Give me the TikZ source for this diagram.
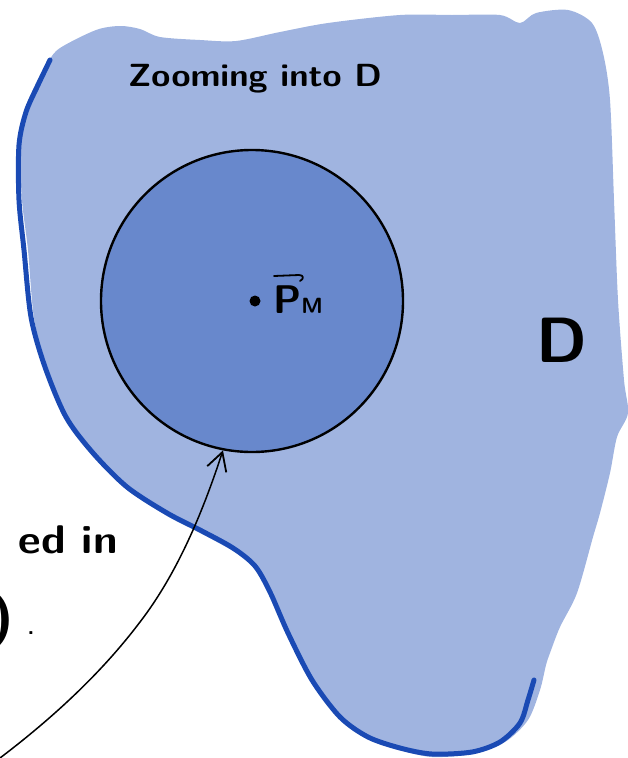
\documentclass[tikz,border=0pt]{standalone}
\usetikzlibrary{arrows.meta}
\definecolor{regionfill}{RGB}{160,180,224}
\definecolor{ballfill}{RGB}{104,136,204}
\definecolor{edgeblue}{RGB}{26,74,180}
\begin{document}
\begin{tikzpicture}[x=1pt,y=-1pt,
  handtext/.style={inner sep=0pt, text=black, font=\sffamily},
  ballstyle/.style={circle, draw=black, line width=2.4pt, fill=ballfill, minimum size=302pt, inner sep=0pt},
  dotstyle/.style={circle, fill=black, minimum size=11pt, inner sep=0pt},
  vecbar/.style={line width=1.8pt, line cap=round, line join=round},
  pointer/.style={line width=1.5pt, line cap=round, -{Straight Barb[length=18pt,width=20pt,line width=1.8pt]}}]
\useasboundingbox (0,0) rectangle (628,758);
\clip (0,0) rectangle (628,758);
% region D
\fill[regionfill] plot[smooth cycle, tension=0.5] coordinates {
 (48,62) (60,48) (96,30) (120,26) (140,29) (160,37) (200,40) (236,41) (280,32) (328,23)
 (400,15) (452,15) (500,15) (520,23) (536,13) (568,10) (592,23) (603,53) (610,100)
 (614,200) (618,300) (624,380) (628,413) (617,437) (610,473) (600,513) (593,537)
 (577,593) (560,627) (550,653) (546,665) (540,690) (528,720) (505,742) (472,754)
 (432,757) (400,750) (368,739) (340,719) (312,682) (288,635) (272,593)
 (257,568) (233,551) (200,533) (167,516) (127,490) (93,456) (67,420) (47,370)
 (34,318) (28,250) (22,200) (20,140) (25,110) (35,85)};
% blue boundary stroke
\draw[edgeblue, line width=5pt, line cap=round] plot[smooth, tension=0.5] coordinates {
 (50,60) (38,85) (26,112) (19,145) (19,200) (24,250) (31,317) (45,367) (66,417)
 (93,453) (127,487) (167,513) (200,530) (233,548) (255,566) (270,592)
 (288,633) (312,680) (340,717) (368,737) (400,748) (432,754) (472,752) (500,742)
 (520,723) (528,700) (534,680)};
% ball around P_M
\node[ballstyle] (ball) at (252,301) {};
\node[dotstyle] (pm) at (255,301) {};
\node[handtext, anchor=base west, font=\sffamily\bfseries] (pmlabel) at (273,313)
  {{\fontsize{40}{40}\selectfont P}{\fontsize{22}{22}\selectfont M}};
\draw[vecbar] (274,276) -- (299,275) .. controls (304,275) and (304,279) .. (300,281);
% labels
\node[handtext, anchor=base west, font=\sffamily\bfseries\fontsize{32}{32}\selectfont] (title) at (128,86)
  {\scalebox{1.08}[1]{Zooming into D}};
\node[handtext, anchor=base, font=\sffamily\bfseries\fontsize{64}{64}\selectfont] (dlabel) at (562,362) {D};
\node[handtext, anchor=base east, font=\sffamily\bfseries\fontsize{40}{40}\selectfont] (edin) at (118,553)
  {\scalebox{1.1}[1]{ed in}};
\node[handtext, anchor=base west, font=\sffamily\bfseries] (paren) at (-10,634)
  {{\fontsize{55}{55}\selectfont )}\hspace{14pt}{\fontsize{22}{22}\selectfont .}};
% pointer arrow
\coordinate (tail) at (0,758);
\draw[pointer] (tail) .. controls (50,720) and (100,675) .. (140,622)
  .. controls (180,570) and (205,505) .. (ball.259);
\end{tikzpicture}
\end{document}
